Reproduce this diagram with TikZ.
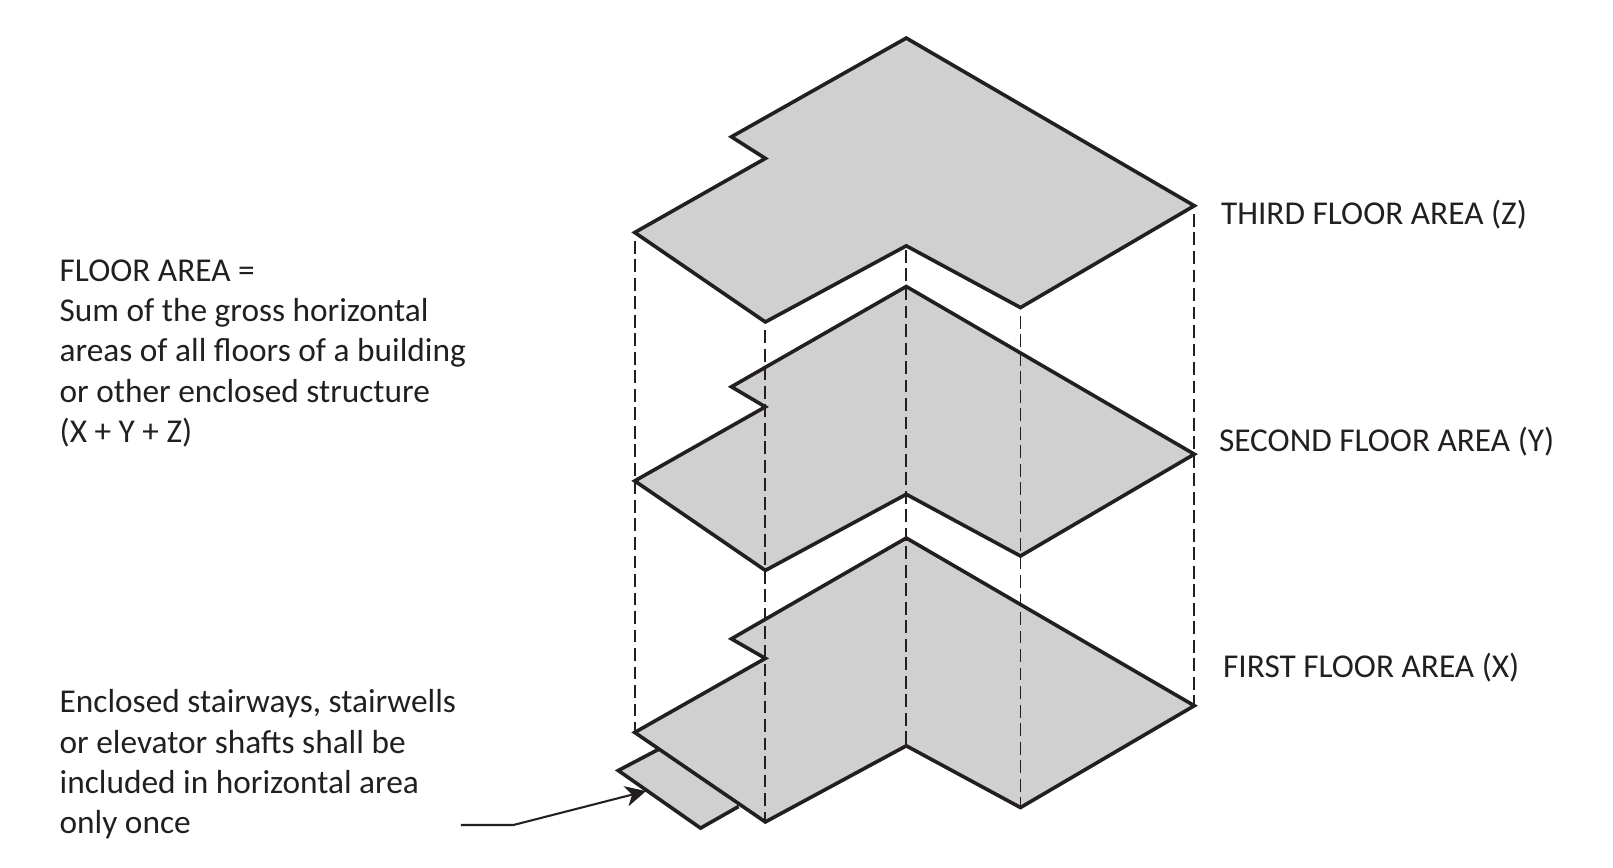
\documentclass[tikz,border=0pt]{standalone}
\usepackage{fontspec}
\setmainfont{Carlito}
\usetikzlibrary{arrows.meta}
\definecolor{ink}{HTML}{231F20}
\definecolor{floorgray}{HTML}{D0D0D0}
\tikzset{
  floorshape/.style={draw=ink,fill=floorgray,line width=3.5pt,line join=miter,miter limit=10},
  guide/.style={draw=ink,line width=1.8pt,dash pattern=on 12.5pt off 5.5pt},
  pointer/.style={draw=ink,line width=2pt,-{Stealth[length=20pt,width=20pt,inset=6pt]}},
  lab/.style={anchor=base west,inner sep=0pt,outer sep=0pt,text=ink,font=\fontsize{32.4}{39}\selectfont},
  para/.style={anchor=north west,align=left,inner sep=0pt,outer sep=0pt,text=ink,font=\fontsize{32.4}{39}\selectfont}
}
\begin{document}
\begin{tikzpicture}[x=1pt,y=-1pt]
\useasboundingbox (0,0) rectangle (1568,843);
% corners
\foreach \n/\dy/\nt in {c/0/133,b/241.5/376,a/486/621}{
  \coordinate (\n top) at (881,37+\dy);
  \coordinate (\n right) at (1161,200+\dy);
  \coordinate (\n inr) at (992,299+\dy);
  \coordinate (\n mid) at (881,239+\dy);
  \coordinate (\n inl) at (744,313+\dy);
  \coordinate (\n left) at (617,226+\dy);
  \coordinate (\n nb) at (744,154+\dy);
  \coordinate (\n nt) at (711,\nt);
}
% stair projection
\coordinate (s1) at (641,728);
\coordinate (s2) at (601,749);
\coordinate (s3) at (681,805);
\coordinate (s4) at (718,784);
\fill[floorgray] (s1) -- (s2) -- (s3) -- (s4) -- cycle;
\draw[floorshape,fill=none] (s1) -- (s2) -- (s3) -- (s4);
% floors
\foreach \n in {a,b,c}{
  \draw[floorshape] (\n top) -- (\n right) -- (\n inr) -- (\n mid) -- (\n inl) -- (\n left) -- (\n nb) -- (\n nt) -- cycle;
}
% guides
\draw[guide] ([yshift=-8pt]cleft) -- (aleft);
\draw[guide] ([yshift=-8pt]cinl) -- (ainl);
\draw[guide] ([yshift=-4pt]cmid) -- (amid);
\draw[guide] ([yshift=-8pt]cinr) -- (ainr);
\draw[guide] ([yshift=-8pt]cright) -- (aright);
% labels
\node[lab] (third) at (1187,218) {THIRD FLOOR AREA (Z)};
\node[lab] (second) at (1185,439) {SECOND FLOOR AREA (Y)};
\node[lab] (first) at (1189,659) {FIRST FLOOR AREA (X)};
\node[para] (def) at (58,252.8) {FLOOR AREA =\\Sum of the gross horizontal\\areas of all floors of a building\\or other enclosed structure\\(X + Y + Z)};
\node[para] (note) at (58,670.5) {Enclosed stairways, stairwells\\or elevator shafts shall be\\included in horizontal area\\only once};
% pointer
\coordinate (pstart) at (448,802);
\coordinate (pbend) at (499,802);
\coordinate (ptip) at (628,769);
\draw[pointer] (pstart) -- (pbend) -- (ptip);
\end{tikzpicture}
\end{document}
